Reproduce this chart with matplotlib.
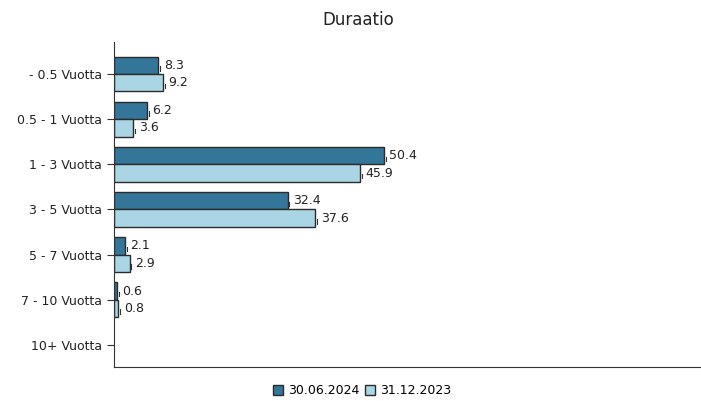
import numpy as np
import matplotlib
matplotlib.use("Agg")
import matplotlib.pyplot as plt

categories = ["- 0.5 Vuotta", "0.5 - 1 Vuotta", "1 - 3 Vuotta", "3 - 5 Vuotta",
              "5 - 7 Vuotta", "7 - 10 Vuotta", "10+ Vuotta"]
series_names = ["30.06.2024", "31.12.2023"]
values_2024 = [8.3, 6.2, 50.4, 32.4, 2.1, 0.6, None]
values_2023 = [9.2, 3.6, 45.9, 37.6, 2.9, 0.8, None]
colors = ["#347699", "#a9d5e4"]

fig = plt.figure(figsize=(7.01, 4.01), dpi=100)
ax = fig.add_axes([114 / 701, 1 - 367 / 401, 586 / 701, 325 / 401])

y = np.arange(len(categories))
h = 0.385
for i, (vals, off) in enumerate([(values_2024, -h / 2), (values_2023, h / 2)]):
    for j, v in enumerate(vals):
        if v is None:
            continue
        ax.barh(y[j] + off, v, height=h, color=colors[i], edgecolor="#2b2b2b", linewidth=1)
        ax.plot([v + 0.35, v + 0.35], [y[j] + off + 0.02, y[j] + off + 0.12], color="#333333", lw=0.8)
        ax.text(v + 1.0, y[j] + off, f"{v}", va="center", ha="left", fontsize=9, color="#222222")

ax.set_xlim(0, 109.4)
ax.set_ylim(6.49, -0.71)
ax.set_yticks(y)
ax.set_yticklabels(categories, fontsize=9, color="#222222")
ax.set_xticks([])
ax.tick_params(axis="y", length=5, color="#333333")
for s in ["top", "right"]:
    ax.spines[s].set_visible(False)
for s in ["left", "bottom"]:
    ax.spines[s].set_color("#333333")

fig.text(358 / 701, 1 - 20 / 401, "Duraatio", ha="center", va="center", fontsize=12, color="#222222")

handles = [plt.Rectangle((0, 0), 1, 1, facecolor=c, edgecolor="#2b2b2b") for c in colors]
fig.legend(handles, series_names, loc="center", bbox_to_anchor=(362 / 701, 1 - 391 / 401),
           ncol=2, frameon=False, fontsize=9, handlelength=0.8, handleheight=0.8,
           handletextpad=0.4, columnspacing=0.5)

fig.savefig("out.png", dpi=100)
